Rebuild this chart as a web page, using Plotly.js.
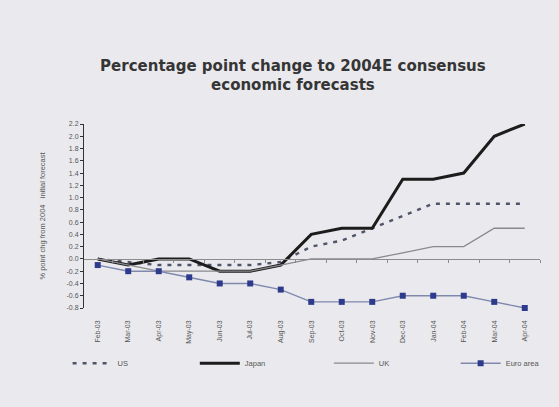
<!DOCTYPE html>
<html>
<head>
<meta charset="utf-8">
<script src="https://cdn.plot.ly/plotly-3.0.1.min.js"></script>
<style>
  html, body { margin: 0; padding: 0; background: #eaeaee; }
  #chart { width: 559px; height: 407px; }
</style>
</head>
<body>
<div id="chart"></div>
<script>
// Monthly revisions to 2004 consensus GDP forecasts (percentage points)
const months = ['Feb-03', 'Mar-03', 'Apr-03', 'May-03', 'Jun-03', 'Jul-03', 'Aug-03',
                'Sep-03', 'Oct-03', 'Nov-03', 'Dec-03', 'Jan-04', 'Feb-04', 'Mar-04', 'Apr-04'];
const us    = [0, -0.05, -0.1, -0.1, -0.1, -0.1, -0.05, 0.2, 0.3, 0.5, 0.7, 0.9, 0.9, 0.9, 0.9];
const japan = [0, -0.1, 0, 0, -0.2, -0.2, -0.1, 0.4, 0.5, 0.5, 1.3, 1.3, 1.4, 2.0, 2.2];
const uk    = [0, -0.1, -0.2, -0.2, -0.2, -0.2, -0.1, 0, 0, 0, 0.1, 0.2, 0.2, 0.5, 0.5];
const euro  = [-0.1, -0.2, -0.2, -0.3, -0.4, -0.4, -0.5, -0.7, -0.7, -0.7, -0.6, -0.6, -0.6, -0.7, -0.8];

const yTickVals = [-0.8, -0.6, -0.4, -0.2, 0.0, 0.2, 0.4, 0.6, 0.8, 1.0, 1.2, 1.4, 1.6, 1.8, 2.0, 2.2];
const yTickText = ['-0.8', '-0.6', '-0.4', '-0.2', '0.0', '0.2', '0.4', '0.6', '0.8', '1.0',
                   '1.2', '1.4', '1.6', '1.8', '2.0', '2.2'];

const yMin = yTickVals[0];
const yMax = yTickVals[yTickVals.length - 1];
const xRange = [-0.45, months.length - 0.5];

const traces = [
  { x: months, y: us, name: 'US', mode: 'lines', legend: 'legend',
    line: { color: '#4f5568', width: 2.4, dash: '4px,6px' } },
  { x: months, y: japan, name: 'Japan', mode: 'lines', legend: 'legend2',
    line: { color: '#1c1c1c', width: 3 } },
  { x: months, y: uk, name: 'UK', mode: 'lines', legend: 'legend3',
    line: { color: '#8a8a8e', width: 1.3 } },
  { x: months, y: euro, name: 'Euro area', mode: 'lines+markers', legend: 'legend4',
    cliponaxis: false,
    line: { color: '#7f88ad', width: 1.4 },
    marker: { symbol: 'square', size: 6, color: '#2e3a8c' } },
  // carrier for the zero-line category axis
  { x: [], y: [], xaxis: 'x2', showlegend: false, hoverinfo: 'skip' }
];

// one small legend per series, spread along the bottom
function legendAt(x) {
  return {
    orientation: 'h', x: x, xanchor: 'left', y: -0.3, yanchor: 'middle',
    itemwidth: 40, bgcolor: 'rgba(0,0,0,0)',
    font: { size: 7.5, color: '#555' }
  };
}

const layout = {
  width: 559, height: 407,
  paper_bgcolor: '#eaeaee', plot_bgcolor: 'rgba(0,0,0,0)',
  margin: { l: 84, r: 19, t: 124, b: 99 },
  font: { family: 'Liberation Sans, Arial, sans-serif', color: '#444' },
  title: {
    text: 'Percentage point change to 2004E consensus<br>economic forecasts',
    font: { family: 'DejaVu Sans, sans-serif', size: 15, weight: 'bold', color: '#353535' },
    x: 0.524, xanchor: 'center', y: 0.826, yanchor: 'top', yref: 'container'
  },
  showlegend: true,
  legend: legendAt(-0.036),
  legend2: legendAt(0.243),
  legend3: legendAt(0.537),
  legend4: legendAt(0.815),
  xaxis: {
    type: 'category', categoryarray: months, range: xRange,
    showgrid: false, zeroline: false, showline: false, ticks: '',
    tickangle: -90, ticklabelstandoff: 10,
    tickfont: { size: 7, color: '#555' }
  },
  xaxis2: {
    overlaying: 'x', anchor: 'free', position: (0 - yMin) / (yMax - yMin),
    range: xRange, tickmode: 'linear', tick0: 0.5, dtick: 1,
    showline: true, linecolor: '#8c8c8c', linewidth: 1,
    ticks: 'outside', ticklen: 3, tickcolor: '#8c8c8c', tickwidth: 1,
    showticklabels: false, showgrid: false, zeroline: false
  },
  yaxis: {
    range: [yMin, yMax], tickmode: 'array', tickvals: yTickVals, ticktext: yTickText,
    showgrid: false, zeroline: false,
    showline: true, linecolor: '#333', linewidth: 1,
    ticks: 'outside', ticklen: 3, tickcolor: '#333',
    tickfont: { size: 7, color: '#555' },
    title: { text: '% point chg from 2004   initial forecast', standoff: 19,
             font: { size: 7.5, color: '#555' } },
    automargin: false
  }
};

Plotly.newPlot('chart', traces, layout, { staticPlot: true, displayModeBar: false });
</script>
</body>
</html>
